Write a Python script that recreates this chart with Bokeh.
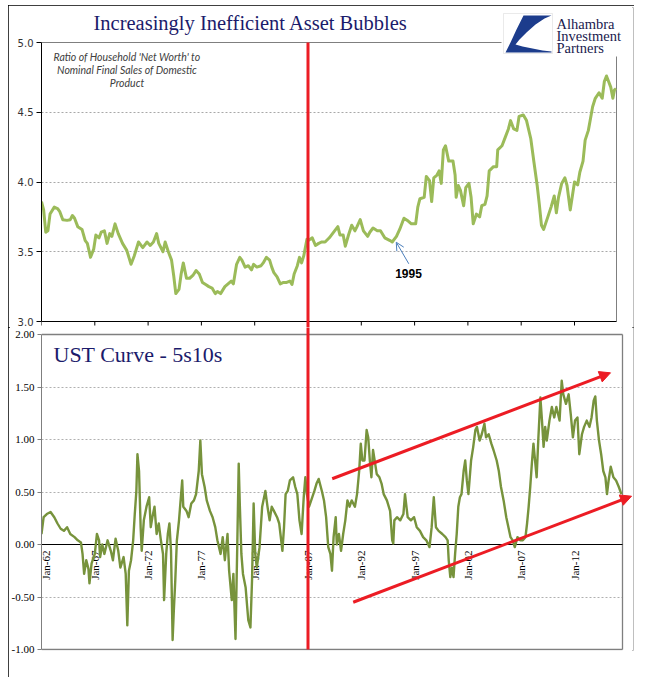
import math
from bokeh.plotting import figure
from bokeh.models import (Range1d, FixedTicker, NumeralTickFormatter, Label,
                          LabelSet, ColumnDataSource, Arrow, NormalHead, OpenHead,
                          PolyAnnotation, BoxAnnotation)
from bokeh.layouts import column
from bokeh.embed import file_html
from bokeh.resources import INLINE
from bokeh.core.properties import value

# ---------------- data ----------------
top_years = [1962.0, 1962.2, 1962.4, 1962.6, 1962.8, 1963.2, 1963.5, 1963.7, 1964.0, 1964.4,
             1964.7, 1964.9, 1965.1, 1965.4, 1965.8, 1966.1, 1966.3, 1966.6, 1966.9, 1967.1,
             1967.4, 1967.6, 1967.9, 1968.15, 1968.4, 1968.6, 1968.9, 1969.2, 1969.6, 1970.0,
             1970.2, 1970.4, 1970.7, 1971.1, 1971.5, 1971.9, 1972.2, 1972.5, 1972.8, 1973.0,
             1973.4, 1973.6, 1973.9, 1974.2, 1974.4, 1974.6, 1974.9, 1975.1, 1975.3, 1975.6,
             1975.9, 1976.2, 1976.5, 1976.8, 1977.1, 1977.4, 1977.7, 1978.0, 1978.3, 1978.5,
             1978.8, 1979.2, 1979.5, 1979.8, 1980.0, 1980.3, 1980.6, 1980.8, 1981.1, 1981.4,
             1981.7, 1981.9, 1982.2, 1982.6, 1982.8, 1983.1, 1983.4, 1983.6, 1983.8, 1984.1,
             1984.4, 1984.7, 1985.0, 1985.3, 1985.5, 1985.7, 1986.0, 1986.2, 1986.4, 1986.6,
             1986.9, 1987.1, 1987.4, 1987.7, 1988.0, 1988.3, 1988.6, 1989.0, 1989.3, 1989.8,
             1990.0, 1990.3, 1990.5, 1990.8, 1991.1, 1991.4, 1991.6, 1991.9, 1992.2, 1992.6,
             1992.8, 1993.1, 1993.5, 1993.8, 1994.2, 1994.7, 1994.9, 1995.3, 1995.6, 1996.0,
             1996.4, 1996.7, 1997.1, 1997.3, 1997.5, 1997.9, 1998.1, 1998.4, 1998.6, 1998.8,
             1999.1, 1999.3, 1999.5, 1999.7, 1999.9, 2000.2, 2000.6, 2000.8, 2000.9, 2001.1,
             2001.3, 2001.6, 2001.8, 2002.1, 2002.3, 2002.5, 2002.8, 2003.1, 2003.3, 2003.6,
             2003.8, 2004.0, 2004.4, 2004.7, 2004.8, 2005.2, 2005.5, 2005.8, 2006.0, 2006.3,
             2006.6, 2006.8, 2007.2, 2007.5, 2007.9, 2008.2, 2008.5, 2008.7, 2008.9, 2009.1,
             2009.5, 2009.8, 2010.1, 2010.3, 2010.5, 2010.8, 2011.1, 2011.3, 2011.6, 2011.8,
             2012.0, 2012.3, 2012.5, 2012.8, 2013.0, 2013.3, 2013.7, 2013.95, 2014.3, 2014.6,
             2014.8, 2015.0, 2015.2, 2015.4, 2015.6, 2015.75, 2015.9]
top_vals = [3.86, 3.80, 3.64, 3.65, 3.77, 3.82, 3.81, 3.79, 3.73, 3.725,
            3.73, 3.76, 3.74, 3.68, 3.66, 3.58, 3.56, 3.46, 3.52, 3.62,
            3.60, 3.64, 3.65, 3.56, 3.63, 3.61, 3.70, 3.63, 3.56, 3.51,
            3.46, 3.41, 3.47, 3.57, 3.53, 3.57, 3.545, 3.57, 3.63, 3.56,
            3.50, 3.57, 3.50, 3.44, 3.33, 3.20, 3.23, 3.34, 3.42, 3.31,
            3.31, 3.33, 3.365, 3.34, 3.28, 3.265, 3.25, 3.24, 3.20, 3.215,
            3.20, 3.25, 3.27, 3.29, 3.27, 3.41, 3.46, 3.44, 3.39, 3.40,
            3.37, 3.41, 3.39, 3.40, 3.42, 3.46, 3.44, 3.39, 3.35, 3.32,
            3.27, 3.28, 3.28, 3.29, 3.265, 3.34, 3.40, 3.46, 3.42, 3.47,
            3.59, 3.585, 3.60, 3.545, 3.56, 3.57, 3.57, 3.60, 3.63, 3.68,
            3.62, 3.62, 3.54, 3.62, 3.69, 3.65, 3.68, 3.73, 3.65, 3.61,
            3.64, 3.67, 3.65, 3.65, 3.60, 3.58, 3.57, 3.61, 3.66, 3.74,
            3.72, 3.70, 3.70, 3.82, 3.88, 3.89, 4.04, 4.01, 3.86, 4.03,
            4.05, 4.08, 3.99, 4.23, 4.26, 4.15, 4.15, 4.05, 3.89, 3.975,
            3.94, 3.83, 3.96, 3.99, 3.89, 3.70, 3.77, 3.75, 3.83, 3.84,
            3.90, 4.08, 4.11, 4.11, 4.23, 4.26, 4.32, 4.38, 4.44, 4.38,
            4.37, 4.47, 4.48, 4.44, 4.31, 4.14, 3.975, 3.84, 3.69, 3.66,
            3.75, 3.82, 3.90, 3.78, 3.89, 3.99, 4.03, 3.975, 3.80, 3.90,
            4.00, 3.98, 4.07, 4.15, 4.30, 4.37, 4.54, 4.60, 4.64, 4.60,
            4.72, 4.76, 4.72, 4.68, 4.60, 4.66, 4.67]

ust_years = [1962.0, 1962.2, 1962.5, 1962.85, 1963.2, 1963.5, 1963.8, 1964.1, 1964.4, 1964.7,
             1965.1, 1965.4, 1965.7, 1965.85, 1966.0, 1966.2, 1966.4, 1966.5, 1966.7, 1967.0,
             1967.2, 1967.4, 1967.5, 1967.7, 1967.9, 1968.2, 1968.5, 1968.7, 1968.95, 1969.2,
             1969.4, 1969.7, 1969.9, 1970.05, 1970.2, 1970.4, 1970.6, 1970.75, 1970.9, 1971.0,
             1971.15, 1971.3, 1971.4, 1971.6, 1971.85, 1972.1, 1972.25, 1972.4, 1972.6, 1972.8,
             1973.0, 1973.2, 1973.4, 1973.5, 1973.7, 1973.85, 1974.0, 1974.15, 1974.3, 1974.4,
             1974.55, 1974.7, 1974.9, 1975.2, 1975.3, 1975.6, 1975.8, 1976.05, 1976.3, 1976.5,
             1976.75, 1976.9, 1977.05, 1977.3, 1977.5, 1977.8, 1978.05, 1978.3, 1978.5, 1978.8,
             1979.0, 1979.2, 1979.45, 1979.6, 1979.85, 1980.0, 1980.2, 1980.35, 1980.5, 1980.6,
             1980.75, 1980.9, 1981.15, 1981.3, 1981.4, 1981.6, 1981.75, 1981.9, 1982.05, 1982.2,
             1982.45, 1982.7, 1983.0, 1983.2, 1983.4, 1983.6, 1983.8, 1984.1, 1984.3, 1984.6,
             1984.75, 1984.9, 1985.1, 1985.3, 1985.6, 1985.8, 1986.0, 1986.2, 1986.4, 1986.6,
             1986.75, 1986.9, 1987.1, 1987.3, 1987.6, 1987.8, 1988.0, 1988.3, 1988.5, 1988.7,
             1988.9, 1989.1, 1989.25, 1989.4, 1989.6, 1989.7, 1989.9, 1990.1, 1990.3, 1990.5,
             1990.7, 1990.9, 1991.1, 1991.4, 1991.6, 1991.8, 1991.95, 1992.1, 1992.3, 1992.5,
             1992.65, 1992.8, 1992.95, 1993.1, 1993.3, 1993.45, 1993.7, 1993.9, 1994.1, 1994.4,
             1994.7, 1994.9, 1995.0, 1995.1, 1995.35, 1995.65, 1995.95, 1996.1, 1996.35, 1996.65,
             1996.95, 1997.2, 1997.5, 1997.8, 1998.1, 1998.4, 1998.6, 1998.8, 1999.0, 1999.25,
             1999.6, 1999.9, 2000.1, 2000.2, 2000.35, 2000.5, 2000.65, 2000.8, 2000.95, 2001.1,
             2001.25, 2001.4, 2001.6, 2001.75, 2001.9, 2002.05, 2002.3, 2002.5, 2002.7, 2002.85,
             2003.1, 2003.3, 2003.55, 2003.7, 2003.95, 2004.2, 2004.4, 2004.7, 2004.9, 2005.1,
             2005.35, 2005.6, 2005.8, 2006.0, 2006.2, 2006.4, 2006.65, 2006.9, 2007.15, 2007.4,
             2007.55, 2007.7, 2007.85, 2008.0, 2008.15, 2008.3, 2008.45, 2008.6, 2008.8, 2008.95,
             2009.1, 2009.25, 2009.4, 2009.65, 2009.875, 2010.1, 2010.3, 2010.6, 2010.8, 2010.95,
             2011.2, 2011.45, 2011.65, 2011.85, 2012.05, 2012.28, 2012.45, 2012.7, 2012.9, 2013.15,
             2013.4, 2013.6, 2013.8, 2013.95, 2014.1, 2014.3, 2014.5, 2014.7, 2014.9, 2015.05,
             2015.2, 2015.4, 2015.65, 2015.9, 2016.15, 2016.4]
ust_vals = [0.10, 0.26, 0.29, 0.31, 0.26, 0.20, 0.15, 0.13, 0.165, 0.10,
            0.07, 0.04, 0.02, -0.09, -0.28, -0.15, -0.23, -0.37, -0.18, -0.09,
            0.10, 0.04, -0.12, 0.0, -0.09, 0.04, -0.06, -0.15, 0.055, -0.06,
            -0.22, -0.12, -0.28, -0.77, -0.25, -0.15, 0.04, 0.29, 0.51, 0.86,
            0.70, 0.165, -0.06, 0.23, 0.36, 0.45, 0.165, 0.26, 0.36, 0.10,
            0.20, 0.04, -0.09, -0.53, -0.09, 0.10, 0.20, -0.06, -0.91, -0.66,
            -0.34, 0.04, 0.23, 0.61, 0.36, 0.32, 0.26, 0.39, 0.42, 0.48,
            0.70, 0.99, 0.67, 0.55, 0.42, 0.32, 0.26, 0.165, 0.04, -0.09,
            0.07, -0.15, 0.10, -0.25, -0.53, -0.28, -0.90, -0.09, 0.77, 0.39,
            -0.09, -0.28, -0.41, -0.60, -0.72, -0.79, -0.34, 0.39, -0.09, -0.22,
            -0.03, 0.36, 0.51, 0.36, 0.23, 0.36, 0.32, 0.26, 0.20, -0.06,
            0.165, 0.48, 0.51, 0.61, 0.64, 0.55, 0.48, 0.23, 0.10, 0.45,
            0.64, 0.48, 0.36, 0.42, 0.51, 0.58, 0.625, 0.51, 0.42, 0.26,
            -0.025, -0.09, -0.25, 0.07, 0.26, 0.0, 0.10, -0.06, 0.10, 0.23,
            0.42, 0.36, 0.42, 0.36, 0.48, 0.70, 0.96, 0.80, 0.80, 1.09,
            1.02, 0.80, 0.64, 0.90, 0.77, 0.67, 0.64, 0.58, 0.48, 0.42,
            0.32, 0.04, 0.01, 0.23, 0.26, 0.23, 0.29, 0.48, 0.26, 0.23,
            0.26, 0.165, 0.13, 0.07, 0.04, -0.025, 0.165, 0.45, 0.165, 0.13,
            0.10, 0.07, 0.04, -0.15, -0.31, -0.22, -0.31, -0.09, 0.10, 0.36,
            0.45, 0.48, 0.70, 0.80, 0.61, 0.48, 0.80, 0.93, 1.09, 1.12,
            0.99, 1.05, 1.15, 1.02, 1.05, 0.96, 0.90, 0.80, 0.70, 0.55,
            0.42, 0.26, 0.165, 0.07, 0.04, -0.025, 0.07, 0.04, 0.04, 0.07,
            0.20, 0.36, 0.55, 0.77, 0.96, 0.80, 0.64, 0.99, 1.40, 1.18,
            0.93, 1.12, 0.99, 1.18, 1.31, 1.21, 1.31, 1.18, 1.56, 1.43,
            1.34, 1.43, 1.24, 1.02, 1.18, 1.21, 0.86, 1.05, 1.12, 1.18,
            1.12, 1.21, 1.37, 1.41, 1.18, 0.99, 0.86, 0.70, 0.64, 0.48,
            0.61, 0.74, 0.64, 0.61, 0.55, 0.48]

top_ticks = [3.0, 3.5, 4.0, 4.5, 5.0]
ust_ticks = [-1.0, -0.5, 0.0, 0.5, 1.0, 1.5, 2.0]
x_tick_years = [1962, 1967, 1972, 1977, 1982, 1987, 1992, 1997, 2002, 2007, 2012]
x_tick_labels = ["Jan-62", "Jan-67", "Jan-72", "Jan-77", "Jan-82", "Jan-87",
                 "Jan-92", "Jan-97", "Jan-02", "Jan-07", "Jan-12"]
marker_year = 1987
callout_year, callout_val = 1995.28, 3.568
trend_upper = [(1989.27, 0.626), (2015.38, 1.635)]
trend_lower = [(1991.24, -0.55), (2017.35, 0.46)]

# -------------- page geometry helpers (page pixels -> data) --------------
PXY = 10.66
def tx(px):
    return 1962 + (px - 41) / PXY
def ty_top(py):
    return 3.0 + (321 - py) / 139.5
def ty_bot(py):
    return (544 - py) / 105.0

NAVY = "#1B1B6B"
GRAY = "#7F7F7F"
RED = "#EC1C24"
LEFT, TOPY, RIGHT, BOTY = 8, 5, 634, 677   # outer frame of the page
SPLIT = 327
FR_R = 633
TOP_END = tx(616)
BOT_END = tx(622)

# ---------------- top figure ----------------
top = figure(width=RIGHT - LEFT, height=SPLIT - TOPY, output_backend="svg",
             toolbar_location=None,
             x_range=Range1d(1962, tx(FR_R)), y_range=Range1d(ty_top(SPLIT), ty_top(7)),
             x_axis_location=None, min_border_left=41 - LEFT, min_border_right=RIGHT - FR_R,
             min_border_top=7 - TOPY, min_border_bottom=0)
top.outline_line_color = None
top.background_fill_color = "white"
top.border_fill_color = "white"

ya = top.yaxis[0]
ya.ticker = FixedTicker(ticks=top_ticks)
ya.bounds = (3.0, 5.0)
ya.formatter = NumeralTickFormatter(format="0.0")
ya.axis_line_color = "black"
ya.major_tick_line_color = "black"
ya.major_tick_out = 5
ya.major_tick_in = 0
ya.minor_tick_line_color = None
ya.major_label_text_font = "DejaVu Sans"
ya.major_label_text_font_size = "10px"
ya.major_label_text_color = "#333333"
ya.major_label_standoff = 3
for g in top.xgrid:
    g.visible = False
top.ygrid.ticker = FixedTicker(ticks=[3.5, 4.0, 4.5])
top.ygrid.cross_bounds = (1962, TOP_END)
top.ygrid.grid_line_color = "#A8A8A8"
top.ygrid.grid_line_dash = "2 2"

# plot-area borders and bottom axis of the upper chart
top.segment(x0=[1962, TOP_END, 1962], y0=[5.0, 3.0, 3.0], x1=[TOP_END, TOP_END, TOP_END],
            y1=[5.0, 5.0, 3.0], line_color=[GRAY, GRAY, "black"], line_width=1)
top.segment(x0=x_tick_years, y0=[3.0] * len(x_tick_years), x1=x_tick_years,
            y1=[3.0 - 4 / 139.5] * len(x_tick_years), line_color="black", line_width=1)

top.line(top_years, top_vals, line_color="#9BBB59", line_width=3, line_join="round")
top.segment(x0=[marker_year], y0=[5.0], x1=[marker_year], y1=[ty_top(SPLIT + 2)],
            line_color=RED, line_width=3)

top.add_layout(Label(x=tx(93), y=ty_top(22), text="Increasingly Inefficient Asset Bubbles",
                     text_align="left", text_baseline="middle", text_font="Liberation Serif",
                     text_font_size="20.5px", text_color=NAVY))

for i, t in enumerate(["Ratio of Household 'Net Worth' to",
                       "Nominal Final Sales of Domestic", "Product"]):
    top.add_layout(Label(x=tx(126.5), y=ty_top(56 + 13 * i), text=t, text_align="center",
                         text_baseline="middle", text_font="Lato", text_font_style="italic",
                         text_font_size="10.5px", text_color="#404040"))

top.add_layout(Arrow(end=OpenHead(size=8, line_color="#4A7EBB", line_width=1),
                     x_start=tx(408.3), y_start=ty_top(263.3),
                     x_end=callout_year, y_end=callout_val,
                     line_color="#4A7EBB", line_width=1))
top.add_layout(Label(x=tx(408), y=ty_top(273), text="1995", text_align="center",
                     text_baseline="middle", text_font="Liberation Sans",
                     text_font_style="bold", text_font_size="12px", text_color="black"))

# logo
top.add_layout(BoxAnnotation(left=tx(501), right=tx(630), top=ty_top(9), bottom=ty_top(56),
                             fill_color="white", fill_alpha=1, line_color=None))
top.add_layout(BoxAnnotation(left=tx(503), right=tx(552), top=ty_top(13), bottom=ty_top(53),
                             fill_color="white", fill_alpha=1, line_color="#BBBBBB",
                             line_width=1))
logo_shape = [(523, 15), (551, 15), (544, 18), (535, 24), (526, 32), (519, 39), (515, 44),
              (522, 46), (532, 48), (542, 50), (551, 51), (551, 52), (505, 52), (510, 42),
              (516, 29)]
top.add_layout(PolyAnnotation(xs=[tx(a) for a, b in logo_shape],
                              ys=[ty_top(b) for a, b in logo_shape],
                              fill_color="#1C3C8C", fill_alpha=1, line_color=None))
for i, t in enumerate(["Alhambra", "Investment", "Partners"]):
    top.add_layout(Label(x=tx(556), y=ty_top(23 + 12 * i), text=t, text_align="left",
                         text_baseline="middle", text_font="Liberation Serif",
                         text_font_size="14.5px", text_color="#1A1A4E"))

# ---------------- bottom figure ----------------
bot = figure(width=RIGHT - LEFT, height=BOTY - SPLIT, output_backend="svg",
             toolbar_location=None,
             x_range=Range1d(1962, tx(FR_R)), y_range=Range1d(ty_bot(650), ty_bot(SPLIT)),
             x_axis_location=None, min_border_left=41 - LEFT, min_border_right=RIGHT - FR_R,
             min_border_top=0, min_border_bottom=BOTY - 650)
bot.outline_line_color = None
bot.background_fill_color = "white"
bot.border_fill_color = "white"
yb = bot.yaxis[0]
yb.ticker = FixedTicker(ticks=ust_ticks)
yb.bounds = (-1.0, 2.0)
yb.formatter = NumeralTickFormatter(format="0.00")
yb.axis_line_color = GRAY
yb.major_tick_line_color = GRAY
yb.major_tick_out = 4
yb.major_tick_in = 0
yb.minor_tick_line_color = None
yb.major_label_text_font = "Liberation Serif"
yb.major_label_text_font_size = "11px"
yb.major_label_text_color = "black"
yb.major_label_standoff = 3
for g in bot.xgrid:
    g.visible = False
bot.ygrid.ticker = FixedTicker(ticks=[-0.5, 0.5, 1.0, 1.5])
bot.ygrid.cross_bounds = (1962, BOT_END)
bot.ygrid.grid_line_color = "#B0B0B0"
bot.ygrid.grid_line_dash = "2 2"

bot.segment(x0=[1962, 1962, BOT_END], y0=[2.0, -1.0, -1.0], x1=[BOT_END, BOT_END, BOT_END],
            y1=[2.0, -1.0, 2.0], line_color=GRAY, line_width=1.3)
bot.segment(x0=[1962], y0=[0.0], x1=[BOT_END], y1=[0.0], line_color="black", line_width=1.2)

lab_src = ColumnDataSource(dict(x=x_tick_years, y=[0.0] * len(x_tick_years), t=x_tick_labels,
                                dx=[4] + [0] * (len(x_tick_years) - 1)))
bot.add_layout(LabelSet(x="x", y="y", text="t", source=lab_src, angle=math.pi / 2,
                        text_align="right", text_baseline="middle", y_offset=-6,
                        x_offset="dx",
                        text_font=value("Liberation Serif"), text_font_size="11px",
                        text_color="black", level="underlay"))

bot.line(ust_years, ust_vals, line_color="#77933C", line_width=2.4, line_join="round")
bot.segment(x0=[marker_year], y0=[ty_bot(SPLIT - 2)], x1=[marker_year], y1=[-1.0],
            line_color=RED, line_width=3)

for (x0, y0), (x1, y1) in (trend_upper, trend_lower):
    bot.add_layout(Arrow(end=NormalHead(size=11, fill_color=RED, line_color=RED),
                         x_start=x0, y_start=y0, x_end=x1, y_end=y1,
                         line_color=RED, line_width=3))

bot.add_layout(Label(x=tx(53), y=ty_bot(354), text="UST Curve - 5s10s", text_align="left",
                     text_baseline="middle", text_font="Liberation Serif",
                     text_font_size="22px", text_color=NAVY))

layout = column(top, bot, spacing=0, margin=(TOPY, 0, 0, LEFT),
                styles={"outline": "2px solid black", "outline-offset": "-2px"})
open("out.html", "w").write(file_html(layout, INLINE))
